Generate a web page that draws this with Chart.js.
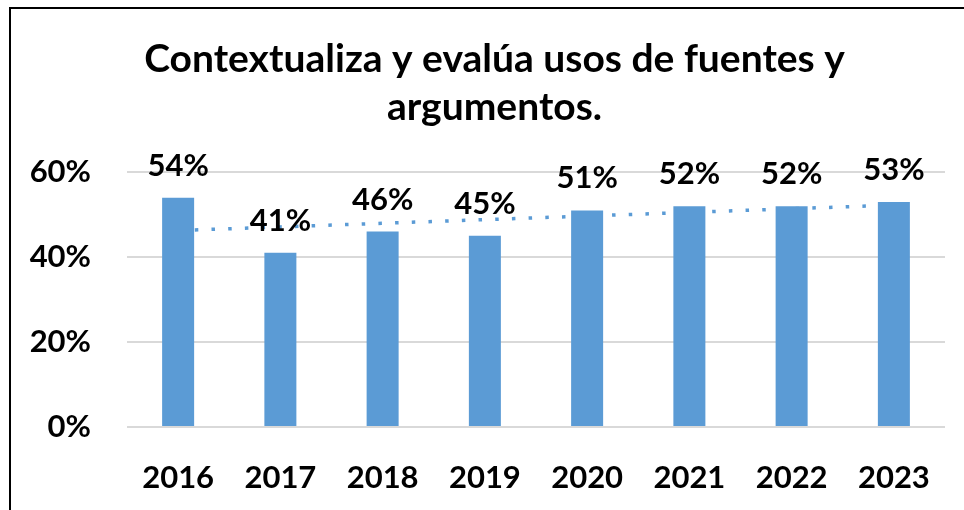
<!DOCTYPE html>
<html lang="es">
<head>
    <meta charset="UTF-8">
    <title>Contextualiza y evalúa usos de fuentes y argumentos.</title>
    <script src="https://cdn.jsdelivr.net/npm/chart.js"></script>
    <style>
body {
    margin: 0;
    background: #fff;
    width: 964px;
    height: 510px;
    overflow: hidden;
    position: relative;
}

.frame {
    position: absolute;
    left: 9px;
    top: 7px;
    width: 1000px;
    height: 600px;
    border-left: 2px solid #000;
    border-top: 2px solid #000;
}

#chart {
    position: absolute;
    left: 0;
    top: 0;
}
    </style>
</head>
<body>
    <div class="frame"></div>
    <canvas id="chart" width="964" height="510"></canvas>
    <script>
// data
const years = ['2016', '2017', '2018', '2019', '2020', '2021', '2022', '2023'];
const scores = [54, 41, 46, 45, 51, 52, 52, 53];
const yTicks = [0, 20, 40, 60];

const barColor = '#5B9BD5';
const font = 'Lato';

// linear trendline (least squares), same as the spreadsheet one
function linearTrend(values) {
    const n = values.length;
    const mx = (n + 1) / 2;
    const my = values.reduce((s, v) => s + v, 0) / n;
    let sxy = 0, sxx = 0;
    values.forEach((v, i) => {
        sxy += (i + 1 - mx) * (v - my);
        sxx += (i + 1 - mx) * (i + 1 - mx);
    });
    const slope = sxy / sxx;
    return values.map((_, i) => my + slope * (i + 1 - mx));
}

// value labels above the bars
const barLabels = {
    id: 'barLabels',
    afterLayout(chart) {
        // title is centred on the whole frame, not just left of the plot
        chart.titleBlock.left += 44;
    },
    afterDatasetsDraw(chart) {
        const ctx = chart.ctx;
        const meta = chart.getDatasetMeta(0);
        ctx.save();
        ctx.font = 'bold 31px ' + font;
        ctx.fillStyle = '#000';
        ctx.textAlign = 'center';
        ctx.textBaseline = 'alphabetic';
        meta.data.forEach((bar, i) => {
            ctx.fillText(scores[i] + '%', bar.x, bar.y - 22);
        });
        ctx.restore();
    }
};

new Chart(document.getElementById('chart'), {
    type: 'bar',
    data: {
        labels: years,
        datasets: [{
            type: 'bar',
            data: scores,
            backgroundColor: barColor,
            categoryPercentage: 1,
            barPercentage: 0.313,
            order: 1
        }, {
            type: 'line',
            data: linearTrend(scores),
            borderColor: barColor,
            borderWidth: 3.5,
            borderDash: [3.5, 13.2],
            borderCapStyle: 'butt',
            pointRadius: 0,
            fill: false,
            order: 2
        }]
    },
    options: {
        responsive: false,
        animation: false,
        layout: { padding: { left: 0, right: 19, top: 0, bottom: 0 } },
        plugins: {
            legend: { display: false },
            tooltip: { enabled: false },
            title: {
                display: true,
                text: ['Contextualiza y evalúa usos de fuentes y', 'argumentos.'],
                color: '#000',
                font: { family: font, size: 39, weight: 'bold', lineHeight: 1.22 },
                padding: { top: 36, bottom: 41 }
            }
        },
        scales: {
            x: {
                grid: { display: false },
                border: { display: false },
                ticks: {
                    color: '#000',
                    font: { family: font, size: 31, weight: 'bold' },
                    padding: 24,
                    maxRotation: 0
                },
                afterFit(scale) { scale.height = 83; }
            },
            y: {
                min: 0,
                max: 60,
                border: { display: false },
                grid: { color: '#D9D9D9', lineWidth: 2, drawTicks: false },
                afterBuildTicks(scale) {
                    scale.ticks = yTicks.map(v => ({ value: v }));
                },
                ticks: {
                    color: '#000',
                    font: { family: font, size: 31, weight: 'bold' },
                    padding: 36,
                    callback: v => v + '%'
                },
                afterFit(scale) { scale.width = 127; }
            }
        }
    },
    plugins: [barLabels]
});
    </script>
</body>
</html>
